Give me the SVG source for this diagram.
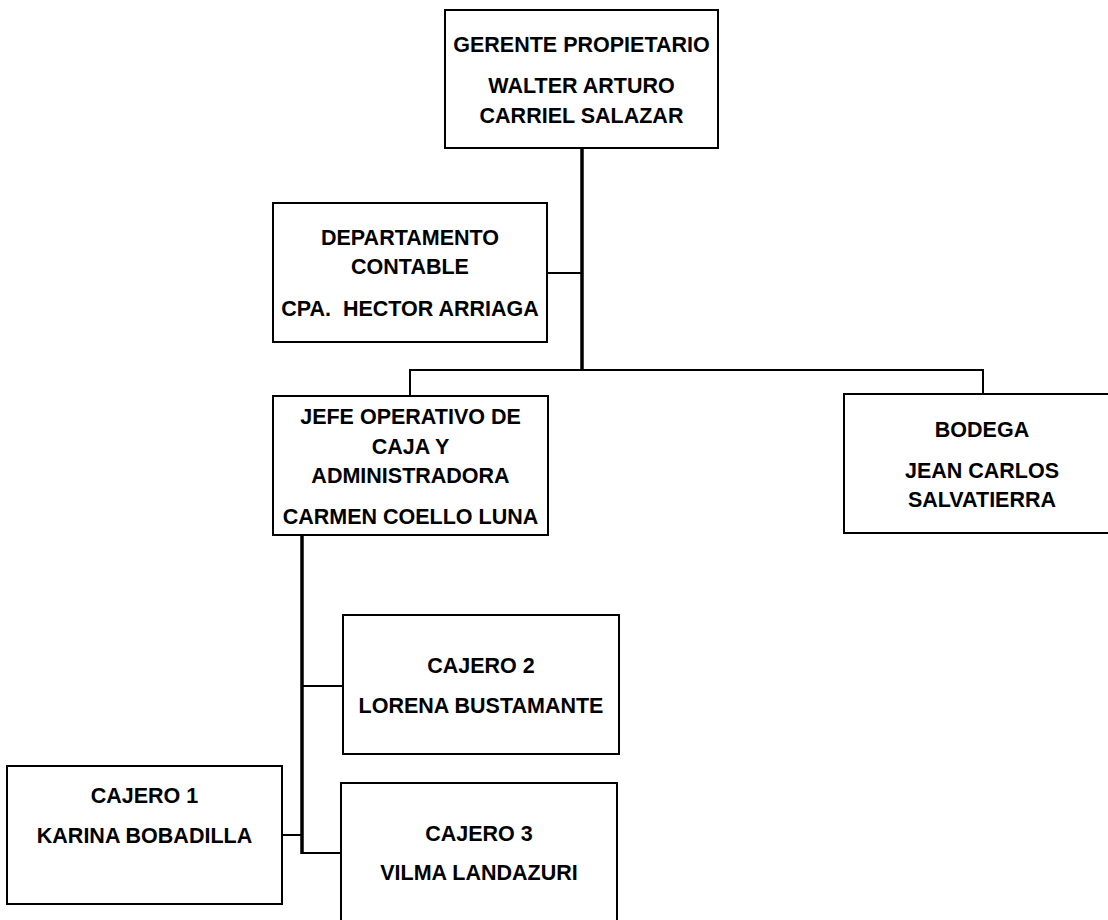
<svg xmlns="http://www.w3.org/2000/svg" width="1108" height="920" viewBox="0 0 1108 920">
<style>
.box{fill:#fff;stroke:#000;stroke-width:2}
.t{font-family:"Liberation Sans",Arial,sans-serif;font-weight:bold;font-size:21.5px;fill:#000;text-anchor:middle}
.c{stroke:#000;fill:none;stroke-width:2}
.ct{stroke:#000;fill:none;stroke-width:3.5}
</style>
<rect width="1108" height="920" fill="#fff"/>
<g id="connectors">
<line class="ct" x1="582" y1="149" x2="582" y2="371"/>
<line class="c" x1="547" y1="273" x2="582" y2="273"/>
<polyline class="c" points="410,396 410,370 983,370 983,394"/>
<line class="ct" x1="302" y1="535" x2="302" y2="854"/>
<line class="c" x1="302" y1="686" x2="343" y2="686"/>
<line class="c" x1="282" y1="835" x2="302" y2="835"/>
<polyline class="c" points="302,853 341,853"/>
</g>
<g id="gerente">
<rect class="box" x="445" y="10" width="273" height="138"/>
<text class="t" x="581.5" y="52">GERENTE PROPIETARIO</text>
<text class="t" x="581.5" y="93">WALTER ARTURO</text>
<text class="t" x="581.5" y="123">CARRIEL SALAZAR</text>
</g>
<g id="contable">
<rect class="box" x="273" y="203" width="274" height="139"/>
<text class="t" x="410" y="245">DEPARTAMENTO</text>
<text class="t" x="410" y="274">CONTABLE</text>
<text class="t" x="410" y="316" xml:space="preserve">CPA.  HECTOR ARRIAGA</text>
</g>
<g id="jefe">
<rect class="box" x="273" y="396" width="275" height="139"/>
<text class="t" x="410.5" y="424">JEFE OPERATIVO DE</text>
<text class="t" x="410.5" y="454">CAJA Y</text>
<text class="t" x="410.5" y="483">ADMINISTRADORA</text>
<text class="t" x="410.5" y="524">CARMEN COELLO LUNA</text>
</g>
<g id="bodega">
<rect class="box" x="844" y="394" width="276" height="139"/>
<text class="t" x="982" y="437">BODEGA</text>
<text class="t" x="982" y="478">JEAN CARLOS</text>
<text class="t" x="982" y="507">SALVATIERRA</text>
</g>
<g id="cajero2">
<rect class="box" x="343" y="615" width="276" height="139"/>
<text class="t" x="481" y="673">CAJERO 2</text>
<text class="t" x="481" y="713">LORENA BUSTAMANTE</text>
</g>
<g id="cajero1">
<rect class="box" x="7" y="766" width="275" height="138"/>
<text class="t" x="144.5" y="803">CAJERO 1</text>
<text class="t" x="144.5" y="843">KARINA BOBADILLA</text>
</g>
<g id="cajero3">
<rect class="box" x="341" y="783" width="276" height="142"/>
<text class="t" x="479" y="841">CAJERO 3</text>
<text class="t" x="479" y="880">VILMA LANDAZURI</text>
</g>
</svg>
